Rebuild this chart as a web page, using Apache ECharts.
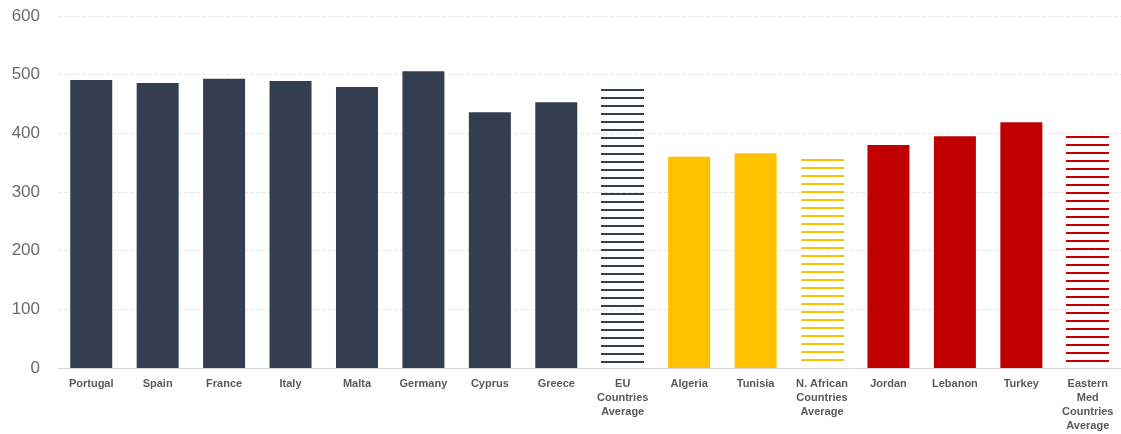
<!DOCTYPE html>
<html>
<head>
<meta charset="utf-8">
<script src="https://cdn.jsdelivr.net/npm/echarts@6/dist/echarts.min.js"></script>
<style>
html,body{margin:0;padding:0;background:#fff;}
#chart{width:1121px;height:434px;}
</style>
</head>
<body>
<div id="chart"></div>
<script>
const categories = ['Portugal','Spain','France','Italy','Malta','Germany','Cyprus','Greece',
  'EU\nCountries\nAverage','Algeria','Tunisia','N. African\nCountries\nAverage',
  'Jordan','Lebanon','Turkey','Eastern\nMed\nCountries\nAverage'];
const groups = ['eu','eu','eu','eu','eu','eu','eu','eu','euAvg','naf','naf','nafAvg','em','em','em','emAvg'];
const values = [491, 486, 493, 489, 479, 506, 436, 453, 475, 360, 366, 356, 380, 395, 419, 395];
const yTicks = [0, 100, 200, 300, 400, 500, 600];
const groupColors = {eu:'#333F50', euAvg:'#333F50', naf:'#FFC000', nafAvg:'#FFC000', em:'#C00000', emAvg:'#C00000'};

const solidData = values.map((v, i) => groups[i].endsWith('Avg') ? null :
  {value: v, itemStyle: {color: groupColors[groups[i]]}});
const stripedData = [];
values.forEach((v, i) => { if (groups[i].endsWith('Avg')) stripedData.push([i, v, groups[i]]); });

const chart = echarts.init(document.getElementById('chart'), null, {renderer: 'canvas'});
chart.setOption({
  animation: false,
  grid: {left: 58, top: 16, width: 1067, height: 352, containLabel: false},
  xAxis: {
    type: 'category',
    data: categories,
    axisLine: {lineStyle: {color: '#d9d9d9', width: 1}},
    axisTick: {show: false},
    axisLabel: {
      interval: 0, margin: 9, color: '#595959', fontWeight: 'bold',
      fontSize: 11, lineHeight: 14, fontFamily: 'Liberation Sans, Arial, sans-serif'
    }
  },
  yAxis: {
    type: 'value',
    min: yTicks[0], max: yTicks[yTicks.length - 1], interval: 100,
    axisLine: {show: false},
    axisTick: {show: false},
    splitLine: {lineStyle: {color: '#e8e8e8', type: [4, 2], width: 1}},
    axisLabel: {
      color: '#6b6b6b', fontSize: 17, margin: 18,
      fontFamily: 'Liberation Sans, Arial, sans-serif'
    }
  },
  series: [
    {
      type: 'bar',
      data: solidData,
      barWidth: 42,
      barGap: '-100%'
    },
    {
      type: 'custom',
      data: stripedData,
      renderItem: function (params, api) {
        const idx = api.value(0), v = api.value(1);
        const g = stripedData[params.dataIndex][2];
        const top = api.coord([idx, v]);
        const base = api.coord([idx, 0]);
        const w = 43;
        const children = [];
        for (let y = Math.round(top[1]); y < base[1] - 3; y += 8) {
          children.push({
            type: 'rect',
            shape: {x: Math.round(top[0] - w / 2), y: y, width: w, height: 2},
            style: {fill: groupColors[g]}
          });
        }
        return {type: 'group', children: children};
      }
    }
  ]
});
</script>
</body>
</html>
